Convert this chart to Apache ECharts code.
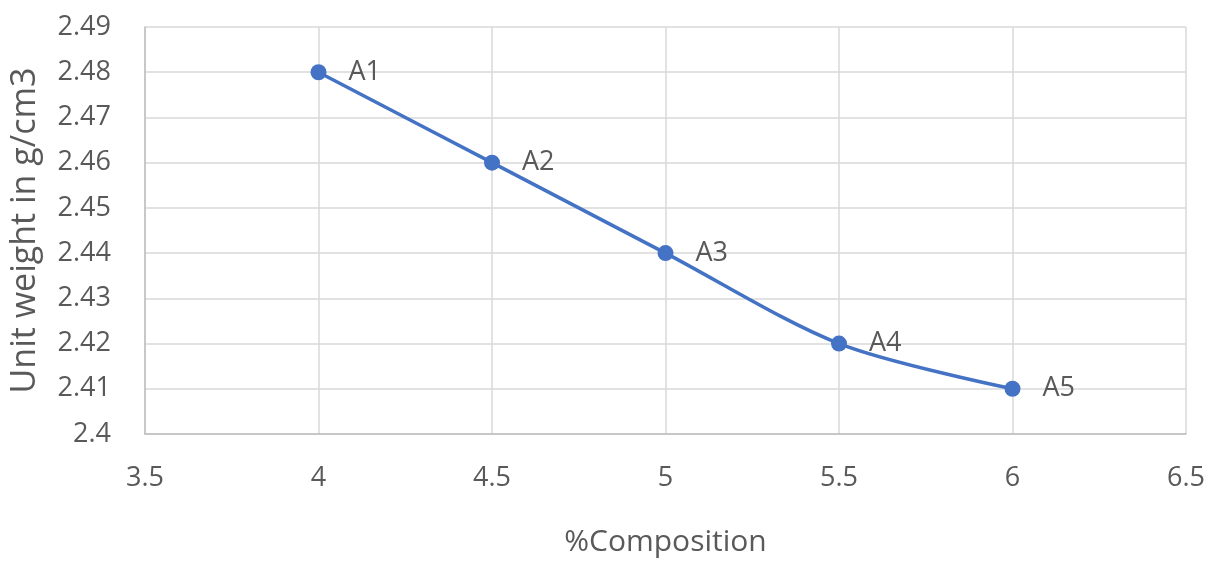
<!DOCTYPE html>
<html>
<head>
<meta charset="utf-8">
<script src="https://cdn.jsdelivr.net/npm/echarts@6/dist/echarts.min.js"></script>
<style>
  html, body { margin: 0; padding: 0; background: #fff; }
  #chart { width: 1219px; height: 562px; }
</style>
</head>
<body>
<div id="chart"></div>
<script>
// Unit weight of each mix versus its percentage composition
const composition = [4, 4.5, 5, 5.5, 6];
const unitWeight = [2.48, 2.46, 2.44, 2.42, 2.41];
const mixNames = ['A1', 'A2', 'A3', 'A4', 'A5'];

const textColor = '#595959';
const fontFamily = '"Open Sans", "DejaVu Sans", sans-serif';

const chart = echarts.init(document.getElementById('chart'));
chart.setOption({
  animation: false,
  backgroundColor: '#fff',
  grid: { left: 144, right: 33, top: 27, bottom: 125 },
  xAxis: {
    type: 'value',
    min: 3.5, max: 6.5, interval: 0.5,
    name: '%Composition',
    nameLocation: 'middle',
    nameGap: 93,
    nameTextStyle: { color: textColor, fontSize: 30, fontFamily },
    axisLine: { show: true, lineStyle: { color: '#bfbfbf', width: 1.5 } },
    axisTick: { show: false },
    axisLabel: { color: textColor, fontSize: 27, fontFamily, margin: 31 },
    splitLine: { show: true, lineStyle: { color: '#d9d9d9', width: 1.5 } }
  },
  yAxis: {
    type: 'value',
    min: 2.4, max: 2.49, interval: 0.01,
    name: 'Unit weight in g/cm3',
    nameLocation: 'middle',
    nameGap: 103,
    nameTextStyle: { color: textColor, fontSize: 34, fontFamily },
    axisLine: { show: true, lineStyle: { color: '#bfbfbf', width: 1.5 } },
    axisTick: { show: false },
    axisLabel: {
      color: textColor, fontSize: 27, fontFamily, margin: 34,
      formatter: v => String(parseFloat(v.toFixed(2)))
    },
    splitLine: { show: true, lineStyle: { color: '#d9d9d9', width: 1.5 } }
  },
  series: [{
    type: 'line',
    smooth: 0.3,
    data: composition.map((x, i) => ({ value: [x, unitWeight[i]], name: mixNames[i] })),
    symbol: 'circle',
    symbolSize: 16,
    itemStyle: { color: '#4472c4' },
    lineStyle: { color: '#4472c4', width: 3.5 },
    label: {
      show: true,
      position: 'right',
      distance: 22,
      formatter: p => p.name,
      color: textColor,
      fontSize: 27,
      fontFamily
    }
  }]
});
</script>
</body>
</html>
